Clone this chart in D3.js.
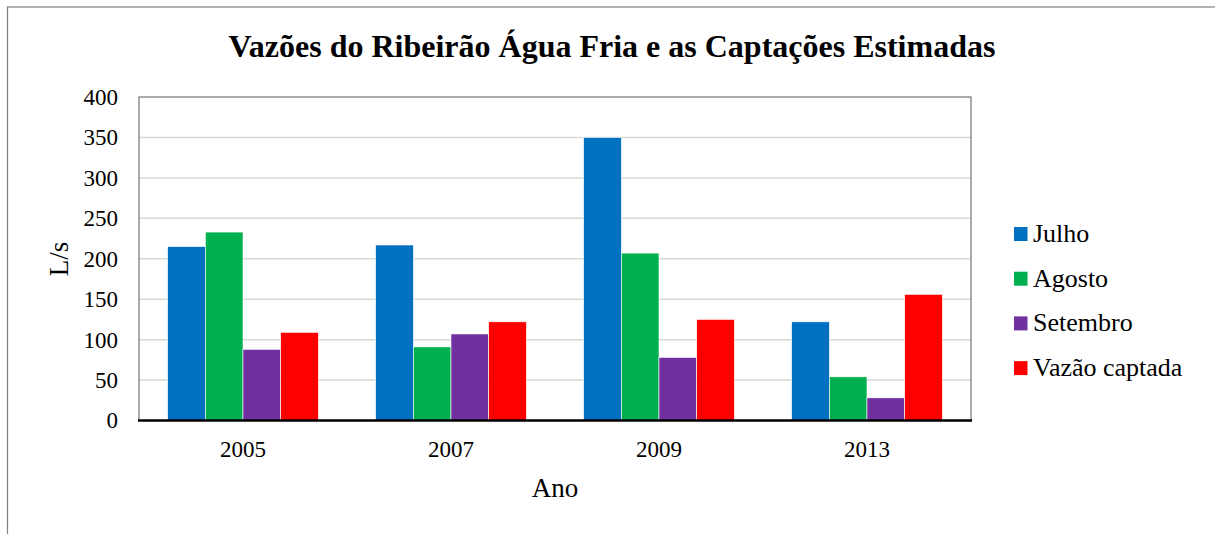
<!DOCTYPE html>
<html lang="pt">
    <head>
        <meta charset="utf-8">
        <title>Vazões do Ribeirão Água Fria</title>
        <script type="text/javascript" src="https://cdn.jsdelivr.net/npm/d3@7"></script>
        <style type="text/css">
            body { margin: 0; background: #fff; }
            svg text { font-family: "Liberation Serif", "Times New Roman", serif; fill: #000; }
        </style>
    </head>
    <body>
        <script type="text/javascript">

        //Data
          var anos = ["2005", "2007", "2009", "2013"];
          var series = ["Julho", "Agosto", "Setembro", "Vazão captada"];
          var julho = [215, 217, 350, 122];
          var agosto = [233, 91, 207, 54];
          var setembro = [88, 107, 78, 28];
          var vazaoCaptada = [109, 122, 125, 156];
          var yTicks = [0, 50, 100, 150, 200, 250, 300, 350, 400];
          var cores = ["#0070C0", "#00B050", "#7030A0", "#FF0000"];

          var valores = [julho, agosto, setembro, vazaoCaptada];

        //Width and height
          var w = 1215;
          var h = 534;
          var plot = { left: 139, right: 971, top: 97, bottom: 420.5 };

          var svg = d3.select("body")
                        .append("svg")
                        .attr("width", w)
                        .attr("height", h);

          //outer frame
          svg.append("rect")
             .attr("x", 7.5)
             .attr("y", 7)
             .attr("width", w + 10)
             .attr("height", h + 10)
             .attr("fill", "none")
             .attr("stroke", "#7f7f7f")
             .attr("stroke-width", 1.2);

          //Scales
          var xScale = d3.scaleBand()
                         .domain(anos)
                         .range([plot.left, plot.right])
                         .padding(0);

          var xInner = d3.scaleBand()
                         .domain(series)
                         .range([0, xScale.bandwidth()])
                         .paddingInner(0)
                         .paddingOuter(0.76);

          var yScale = d3.scaleLinear()
                         .domain([0, 400])
                         .range([plot.bottom, plot.top]);

          //gridlines
          svg.append("g")
             .selectAll("line")
             .data(yTicks.filter(function(d) { return d > 0 && d < 400; }))
             .enter()
             .append("line")
             .attr("x1", plot.left)
             .attr("x2", plot.right)
             .attr("y1", function(d) { return yScale(d); })
             .attr("y2", function(d) { return yScale(d); })
             .attr("stroke", "#d9d9d9")
             .attr("stroke-width", 1.5);

          //plot frame
          svg.append("rect")
             .attr("x", plot.left)
             .attr("y", plot.top)
             .attr("width", plot.right - plot.left)
             .attr("height", plot.bottom - plot.top)
             .attr("fill", "none")
             .attr("stroke", "#595959")
             .attr("stroke-width", 1);

          //bars
          var groups = svg.append("g")
             .selectAll("g")
             .data(anos)
             .enter()
             .append("g")
             .attr("transform", function(d) { return "translate(" + xScale(d) + ",0)"; });

          groups.selectAll("rect")
             .data(function(d, i) {
                 return series.map(function(s, j) {
                     return { serie: s, valor: valores[j][i], cor: cores[j] };
                 });
             })
             .enter()
             .append("rect")
             .attr("x", function(d) { return xInner(d.serie); })
             .attr("y", function(d) { return yScale(d.valor); })
             .attr("width", xInner.bandwidth())
             .attr("height", function(d) { return yScale(0) - yScale(d.valor); })
             .attr("fill", function(d) { return d.cor; })
             .attr("stroke", "#fff")
             .attr("stroke-width", 0.6);

          //x axis line
          svg.append("line")
             .attr("x1", plot.left - 1)
             .attr("x2", plot.right + 1)
             .attr("y1", yScale(0))
             .attr("y2", yScale(0))
             .attr("stroke", "#000")
             .attr("stroke-width", 2.5);

          //y axis
          var yAxis = d3.axisLeft(yScale)
                        .tickValues(yTicks)
                        .tickSize(0)
                        .tickPadding(21);

          var gy = svg.append("g")
                      .attr("transform", "translate(" + plot.left + ",0)")
                      .call(yAxis);
          gy.select(".domain").remove();
          gy.selectAll("text")
            .attr("font-size", "23px")
            .attr("fill", "#000");

          //x axis
          var xAxis = d3.axisBottom(xScale)
                        .tickSize(0)
                        .tickPadding(20);

          var gx = svg.append("g")
                      .attr("transform", "translate(0," + plot.bottom + ")")
                      .call(xAxis);
          gx.select(".domain").remove();
          gx.selectAll("text")
            .attr("font-size", "23px")
            .attr("fill", "#000");

          //title
          svg.append("text")
             .attr("x", 612)
             .attr("y", 57)
             .attr("text-anchor", "middle")
             .attr("font-size", "32px")
             .attr("font-weight", "bold")
             .text("Vazões do Ribeirão Água Fria e as Captações Estimadas");

          //axis titles
          svg.append("text")
             .attr("x", 555)
             .attr("y", 497)
             .attr("text-anchor", "middle")
             .attr("font-size", "27px")
             .text("Ano");

          svg.append("text")
             .attr("transform", "translate(68,259) rotate(-90)")
             .attr("text-anchor", "middle")
             .attr("font-size", "27px")
             .text("L/s");

          //legend
          var legend = svg.append("g")
             .selectAll("g")
             .data(series)
             .enter()
             .append("g")
             .attr("transform", function(d, i) { return "translate(1014," + (235 + i * 44.7) + ")"; });

          legend.append("rect")
             .attr("x", 0)
             .attr("y", -8)
             .attr("width", 13.5)
             .attr("height", 14)
             .attr("fill", function(d, i) { return cores[i]; });

          legend.append("text")
             .attr("x", 19)
             .attr("y", 7)
             .attr("font-size", "26px")
             .text(function(d) { return d; });

        </script>
    </body>
</html>
